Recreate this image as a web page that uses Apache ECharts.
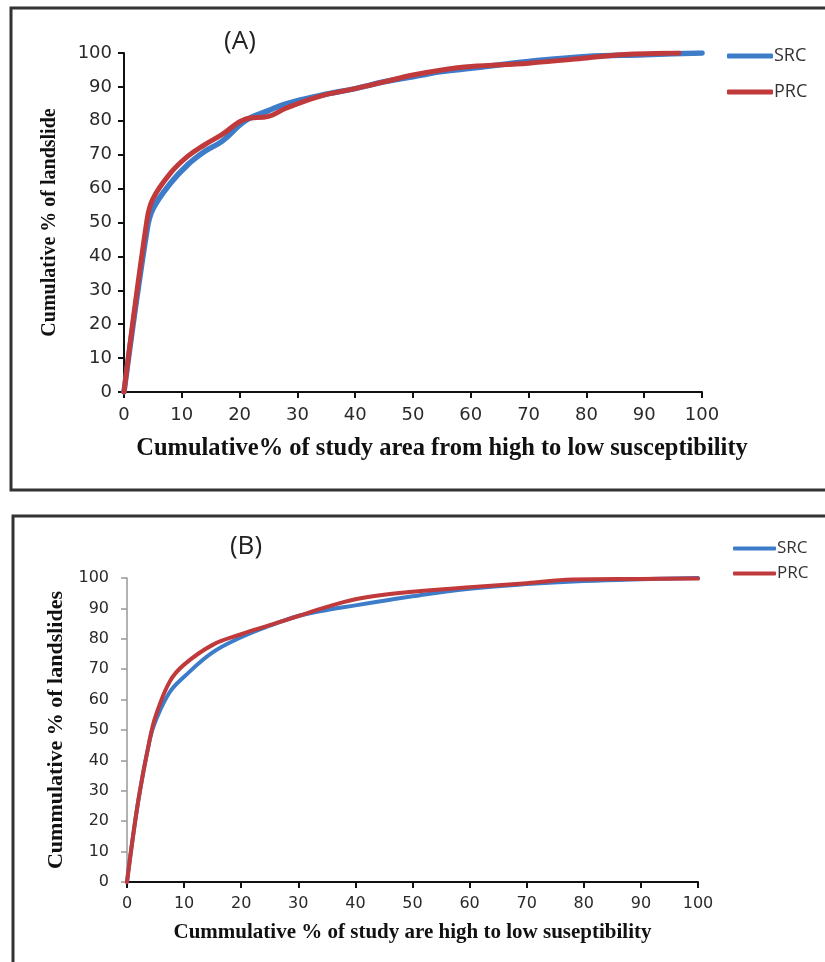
<!DOCTYPE html>
<html>
<head>
<meta charset="utf-8">
<script src="https://cdn.jsdelivr.net/npm/echarts@6/dist/echarts.min.js"></script>
<style>
  html, body { margin: 0; padding: 0; background: #fff; }
  #main { width: 825px; height: 962px; }
</style>
</head>
<body>
<div id="main"></div>
<script>
// panel A: success rate / prediction rate curves
const srcA = [[0,0],[4,48],[5,54],[8,61.5],[11,67],[14,71],[17,74],[21,80],[25,83],[28,85],[34,87.5],[40,89.5],[45,91.5],[50,93],[55,94.5],[60,95.5],[70,97.5],[80,99],[90,99.5],[95,99.8],[100,100]]
const prcA = [[0,0],[4,51],[5,57],[8,64.5],[11,69.5],[14,73],[17,76],[21,80.5],[25,81.3],[28,83.7],[34,87.3],[40,89.5],[45,91.5],[50,93.5],[55,95],[60,96],[70,97],[80,98.5],[86,99.5],[96,100]]
// panel B
const srcB = [[0,0],[2,27],[4,47],[5,53],[7.5,62.5],[10,67.5],[15,75.5],[20,80.5],[25,84.3],[30,87.5],[35,89.5],[40,91],[45,92.5],[50,94],[60,96.5],[70,98],[80,99],[90,99.6],[100,100]]
const prcB = [[0,0],[2,27],[4,47],[5,54.5],[7.5,66],[10,71.5],[15,78],[20,81.5],[25,84.5],[30,87.5],[35,90.5],[40,93],[45,94.5],[50,95.5],[60,97],[70,98.3],[78,99.5],[90,99.7],[100,99.8]]
const seriesNames = ['SRC', 'PRC']

const BLUE = '#3d7cc9'
const RED = '#c0393b'

const chart = echarts.init(document.getElementById('main'))

function valueAxis(idx, opt) {
  return Object.assign({
    type: 'value', gridIndex: idx, min: 0, max: 100, interval: 10,
    nameLocation: 'middle',
    splitLine: { show: false },
    axisTick: { show: true, inside: false, length: 6, lineStyle: { color: '#111', width: 2 } },
    axisLine: { show: true, onZero: false, lineStyle: { color: '#111', width: 2 } }
  }, opt)
}

function curve(name, gi, data, width, color) {
  return {
    name: name, type: 'line', xAxisIndex: gi, yAxisIndex: gi, data: data,
    showSymbol: false, smooth: 0.4, color: color,
    lineStyle: { width: width, color: color, cap: 'round', join: 'round' }
  }
}

chart.setOption({
  animation: false,
  backgroundColor: '#fff',
  graphic: [
    { type: 'rect', shape: { x: 11, y: 8, width: 830, height: 482 }, style: { fill: 'none', stroke: '#333', lineWidth: 3 } },
    { type: 'rect', shape: { x: 13, y: 516, width: 830, height: 460 }, style: { fill: 'none', stroke: '#333', lineWidth: 3 } },
    { type: 'text', x: 240, y: 42, style: { text: '(A)', font: '26px "Open Sans"', fill: '#222', textAlign: 'center', textVerticalAlign: 'middle' } },
    { type: 'text', x: 246, y: 547, style: { text: '(B)', font: '26px "Open Sans"', fill: '#222', textAlign: 'center', textVerticalAlign: 'middle' } }
  ],
  legend: [{
    data: seriesNames, orient: 'vertical', left: 722, top: 42,
    itemWidth: 46, itemHeight: 5, itemGap: 18, icon: 'roundRect',
    textStyle: { fontFamily: 'Open Sans', fontSize: 18, color: '#333', padding: [0, 0, 0, -4] }
  }, {
    data: seriesNames, orient: 'vertical', left: 728, top: 535,
    itemWidth: 43, itemHeight: 4, itemGap: 8, icon: 'roundRect',
    textStyle: { fontFamily: 'Open Sans', fontSize: 17, color: '#333', padding: [0, 0, 0, -4] }
  }],
  grid: [
    { left: 124, top: 53, width: 578, height: 339 },
    { left: 127, top: 578, width: 571, height: 304 }
  ],
  xAxis: [
    valueAxis(0, {
      name: 'Cumulative% of study area from high to low susceptibility', nameGap: 44,
      nameTextStyle: { fontFamily: 'Liberation Serif', fontWeight: 'bold', fontSize: 24.5, color: '#111', padding: [0, 0, 0, 58] },
      axisLabel: { margin: 14, fontFamily: 'DejaVu Sans', fontSize: 18, color: '#2a2a2a' }
    }),
    valueAxis(1, {
      name: 'Cummulative % of study are high to low suseptibility', nameGap: 40,
      nameTextStyle: { fontFamily: 'Liberation Serif', fontWeight: 'bold', fontSize: 21, color: '#111' },
      axisLabel: { margin: 14, fontFamily: 'DejaVu Sans', fontSize: 16, color: '#2a2a2a' }
    })
  ],
  yAxis: [
    valueAxis(0, {
      name: 'Cumulative % of landslide', nameGap: 64,
      nameTextStyle: { fontFamily: 'Liberation Serif', fontWeight: 'bold', fontSize: 20, color: '#111' },
      axisLabel: { margin: 12, fontFamily: 'DejaVu Sans', fontSize: 18, color: '#2a2a2a' }
    }),
    valueAxis(1, {
      name: 'Cummulative % of landslides', nameGap: 60,
      nameTextStyle: { fontFamily: 'Liberation Serif', fontWeight: 'bold', fontSize: 22, color: '#111' },
      axisLine: { show: true, onZero: false, lineStyle: { color: '#999', width: 1.5 } },
      axisTick: { show: true, length: 6, lineStyle: { color: '#999', width: 1.5 } },
      axisLabel: { margin: 18, fontFamily: 'DejaVu Sans', fontSize: 16, color: '#2a2a2a' }
    })
  ],
  series: [
    curve('SRC', 0, srcA, 5.5, BLUE),
    curve('PRC', 0, prcA, 5, RED),
    curve('SRC', 1, srcB, 4, BLUE),
    curve('PRC', 1, prcB, 4, RED)
  ]
})
</script>
</body>
</html>
